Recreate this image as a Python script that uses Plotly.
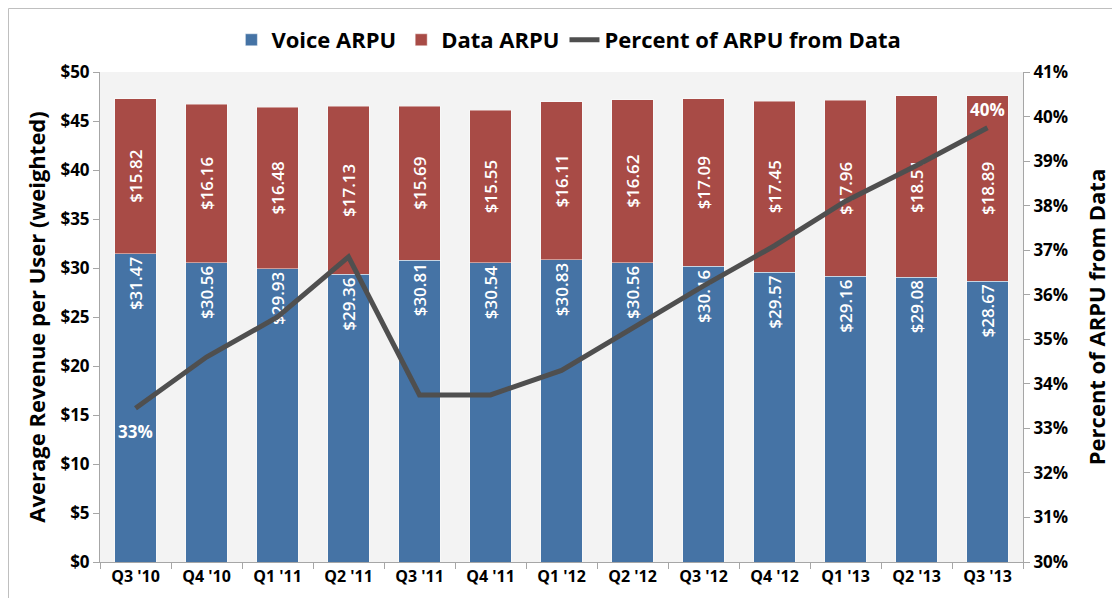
import plotly.graph_objects as go

quarters = ["Q3 '10", "Q4 '10", "Q1 '11", "Q2 '11", "Q3 '11", "Q4 '11", "Q1 '12",
            "Q2 '12", "Q3 '12", "Q4 '12", "Q1 '13", "Q2 '13", "Q3 '13"]
voice_arpu = [31.47, 30.56, 29.93, 29.36, 30.81, 30.54, 30.83, 30.56, 30.16, 29.57, 29.16, 29.08, 28.67]
data_arpu = [15.82, 16.16, 16.48, 17.13, 15.69, 15.55, 16.11, 16.62, 17.09, 17.45, 17.96, 18.51, 18.89]
pct_data = [33.45, 34.6, 35.5, 36.85, 33.75, 33.75, 34.3, 35.25, 36.2, 37.1, 38.1, 38.9, 39.75]
first_pct_label = "33%"
last_pct_label = "40%"

FONT = "Open Sans"
BLUE = "#4573A5"
RED = "#A84B46"
LINE = "#4F4F4F"
AXC = "#A6A6A6"

fig = go.Figure()
fig.add_trace(go.Bar(
    x=quarters, y=voice_arpu, name="Voice ARPU",
    marker=dict(color=BLUE, line=dict(color="rgba(255,255,255,0.45)", width=1)),
    text=[f"${v:.2f}" for v in voice_arpu], textposition="inside",
    insidetextanchor="end", textangle=-90, constraintext="none",
    textfont=dict(family=FONT, size=17, color="white", weight=600),
    hoverinfo="skip",
))
fig.add_trace(go.Bar(
    x=quarters, y=data_arpu, name="Data ARPU",
    marker=dict(color=RED, line=dict(color="rgba(255,255,255,0.45)", width=1)),
    text=[f"${v:.2f}" for v in data_arpu], textposition="inside",
    insidetextanchor="middle", textangle=-90, constraintext="none",
    textfont=dict(family=FONT, size=17, color="white", weight=600),
    hoverinfo="skip",
))
fig.add_trace(go.Scatter(
    x=quarters, y=pct_data, name="Percent of ARPU from Data", yaxis="y2",
    mode="lines", line=dict(color=LINE, width=5),
    hoverinfo="skip",
))

label_font = dict(family=FONT, size=17, color="white", weight="bold")
fig.add_annotation(x=quarters[0], y=pct_data[0], xref="x", yref="y2", text=first_pct_label,
                   showarrow=False, yshift=-23, font=label_font)
fig.add_annotation(x=quarters[-1], y=pct_data[-1], xref="x", yref="y2", text=last_pct_label,
                   showarrow=False, yshift=18, font=label_font)

# the page adds an 8px body margin, so margins are offset by 8px
ML, MR, MT, MB = 92, 105, 64, 44
PW, PH = 1120 - ML - MR, 598 - MT - MB

fig.update_layout(
    width=1120, height=598,
    barmode="stack", bargap=0.42,
    paper_bgcolor="white", plot_bgcolor="#F3F3F3",
    font=dict(family=FONT, color="black"),
    margin=dict(l=ML, r=MR, t=MT, b=MB, autoexpand=False),
    showlegend=True,
    legend=dict(orientation="h", x=0.508, xanchor="center",
                yref="container", y=0.9465, yanchor="middle",
                font=dict(family=FONT, size=22, color="black", weight="bold"),
                itemwidth=30, traceorder="normal", bgcolor="rgba(0,0,0,0)"),
    xaxis=dict(showgrid=False, showline=True, linecolor=AXC, linewidth=1, automargin=False,
               ticks="outside", tickson="boundaries", ticklen=6, tickcolor=AXC,
               tickfont=dict(family=FONT, size=16, color="black", weight="bold")),
    yaxis=dict(range=[0, 50], dtick=5, tickprefix="$", showgrid=False, zeroline=False,
               showline=True, linecolor=AXC, linewidth=1, automargin=False,
               ticks="outside", ticklen=6, tickcolor=AXC,
               tickfont=dict(family=FONT, size=17, color="black", weight="bold"),
               title=dict(text="Average Revenue per User (weighted)", standoff=8,
                          font=dict(family=FONT, size=22, color="black", weight="bold"))),
    yaxis2=dict(range=[30, 41], dtick=1, ticksuffix="%", overlaying="y", side="right",
                showgrid=False, zeroline=False, showline=True, linecolor=AXC, automargin=False,
                linewidth=1, ticks="outside", ticklen=6, tickcolor=AXC,
                tickfont=dict(family=FONT, size=17, color="black", weight="bold"),
                title=dict(text="Percent of ARPU from Data", standoff=22,
                           font=dict(family=FONT, size=22, color="black", weight="bold"))),
    shapes=[dict(type="rect", xref="paper", yref="paper",
                 x0=-(ML - 0.5) / PW, x1=1.2, y0=-0.2, y1=(PH + MT - 0.5) / PH,
                 line=dict(color="#BFBFBF", width=1), fillcolor="rgba(0,0,0,0)", layer="below")],
)

fig.write_html("out.html")
